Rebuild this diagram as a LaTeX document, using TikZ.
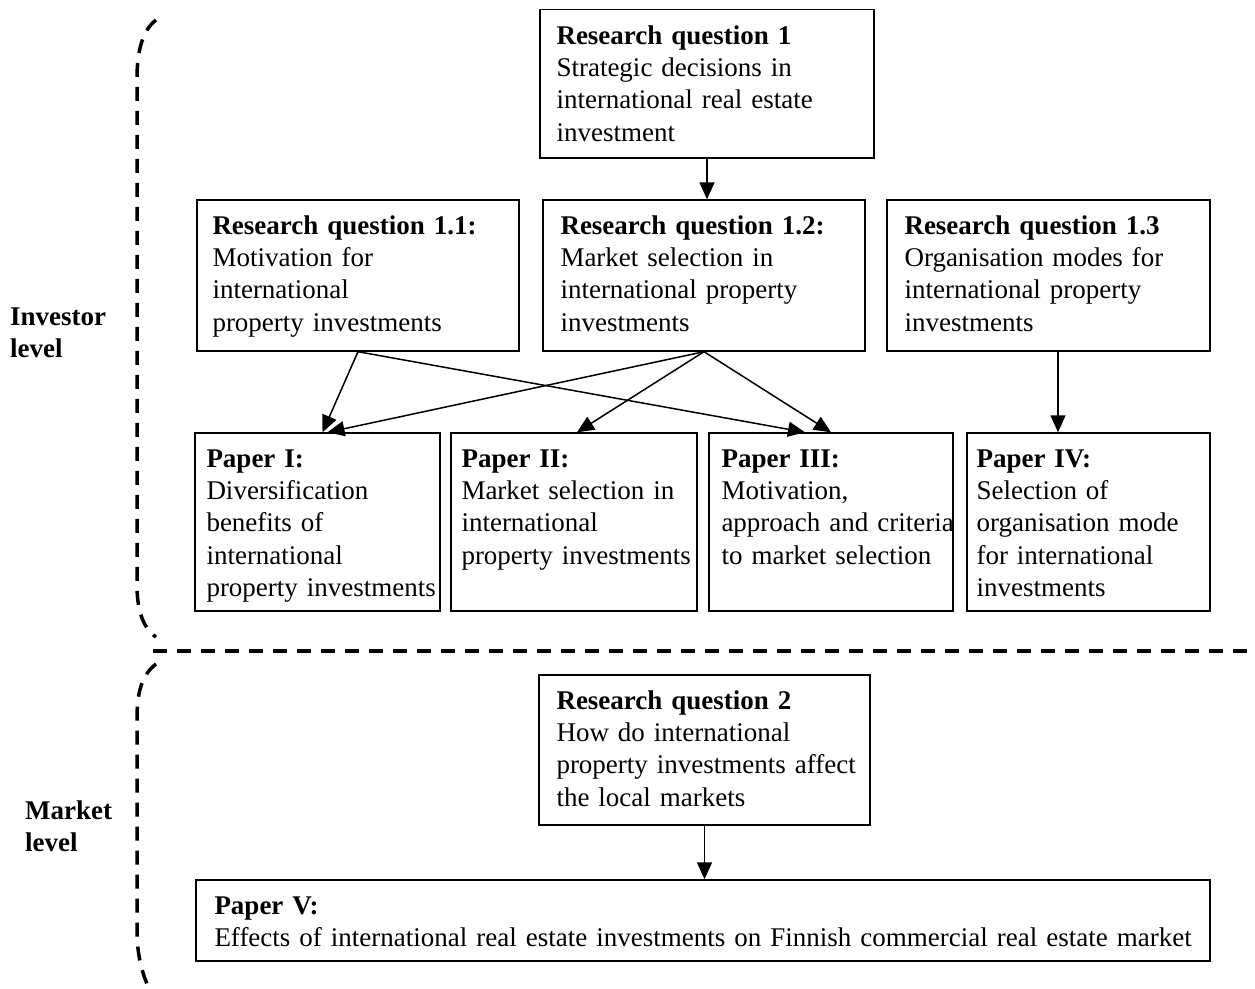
\documentclass[tikz,border=0pt]{standalone}
\usepackage{fontspec}
\setmainfont{Liberation Serif}
\usetikzlibrary{arrows.meta}
\begin{document}
\begin{tikzpicture}[x=1pt,y=-1pt,
  box/.style={draw, line width=1.4pt, rectangle, inner sep=0pt},
  txt/.style={font=\fontsize{27}{32.3}\selectfont, align=left, text width=420pt, inner sep=0pt, anchor=base west},
  lbl/.style={font=\fontsize{27}{32.3}\selectfont\bfseries, align=left, text width=140pt, inner sep=0pt, anchor=base west},
  arr/.style={-{Triangle[length=17pt,width=15pt]}, line width=1.5pt},
  brace/.style={line width=3.5pt, dash pattern=on 14pt off 10pt}]
\useasboundingbox (0,0) rectangle (1255,988);
\fill[white] (0,0) rectangle (1255,988);

% boxes
\node[box, minimum width=334, minimum height=148.5] (rq1) at (707,83.75) {};
\node[box, minimum width=322, minimum height=151] (rq11) at (358,275.5) {};
\node[box, minimum width=322, minimum height=151] (rq12) at (704,275.5) {};
\node[box, minimum width=323, minimum height=151] (rq13) at (1048.5,275.5) {};
\node[box, minimum width=245, minimum height=178] (p1) at (317.5,522) {};
\node[box, minimum width=246, minimum height=178] (p2) at (574,522) {};
\node[box, minimum width=244, minimum height=178] (p3) at (831,522) {};
\node[box, minimum width=243, minimum height=178] (p4) at (1088.5,522) {};
\node[box, minimum width=331, minimum height=150] (rq2) at (704.5,750) {};
\node[box, minimum width=1014, minimum height=81] (p5) at (703,920.5) {};

% texts
\node[txt] (rq1t) at ([shift={(17,35.5)}]rq1.north west) {\textbf{Research question 1}\\Strategic decisions in\\international real estate\\investment};
\node[txt] (rq11t) at ([shift={(16,35)}]rq11.north west) {\textbf{Research question 1.1:}\\Motivation for\\international\\property investments};
\node[txt] (rq12t) at ([shift={(18,35)}]rq12.north west) {\textbf{Research question 1.2:}\\Market selection in\\international property\\investments};
\node[txt] (rq13t) at ([shift={(18,35)}]rq13.north west) {\textbf{Research question 1.3}\\Organisation modes for\\international property\\investments};
\node[txt] (p1t) at ([shift={(12,35)}]p1.north west) {\textbf{Paper I:}\\Diversification\\benefits of\\international\\property investments};
\node[txt] (p2t) at ([shift={(11,35)}]p2.north west) {\textbf{Paper II:}\\Market selection in\\international\\property investments};
\node[txt] (p3t) at ([shift={(13,35)}]p3.north west) {\textbf{Paper III:}\\Motivation,\\approach and criteria\\to market selection};
\node[txt] (p4t) at ([shift={(10,35)}]p4.north west) {\textbf{Paper IV:}\\Selection of\\organisation mode\\for international\\investments};
\node[txt] (rq2t) at ([shift={(18,35)}]rq2.north west) {\textbf{Research question 2}\\How do international\\property investments affect\\the local markets};
\node[txt, text width=1000pt] (p5t) at ([shift={(19,35)}]p5.north west) {\textbf{Paper V:}\\Effects of international real estate investments on Finnish commercial real estate market};

% side labels
\node[lbl] (inv) at (10,325) {Investor\\level};
\node[lbl] (mkt) at (25,819) {Market\\level};

% arrows
\draw[arr] (rq1.south) -- (rq1.south |- rq12.north);
\draw[arr] (rq11.south) -- ([xshift=5pt]p1.north);
\draw[arr] (rq12.south) -- ([xshift=10pt]p1.north);
\draw[arr] (rq11.south) -- ([xshift=-26pt]p3.north);
\draw[arr] (rq12.south) -- ([xshift=3pt]p2.north);
\draw[arr] (rq12.south) -- (p3.north);
\draw[arr] ([xshift=9.5pt]rq13.south) -- ([xshift=9.5pt]rq13.south |- p4.north);
\draw[arr] (rq2.south) -- (rq2.south |- p5.north);

% dashed brackets and separator
\draw[brace] (156,20) .. controls (143,30) and (137,50) .. (137,78) -- (137,585) .. controls (137,610) and (143,628) .. (156,637);
\draw[brace] (153,651) -- (1255,651);
\draw[brace] (156,664) .. controls (143,674) and (137,690) .. (137,718) -- (137,930) .. controls (137,955) and (142,975) .. (152,995);
\end{tikzpicture}
\end{document}
